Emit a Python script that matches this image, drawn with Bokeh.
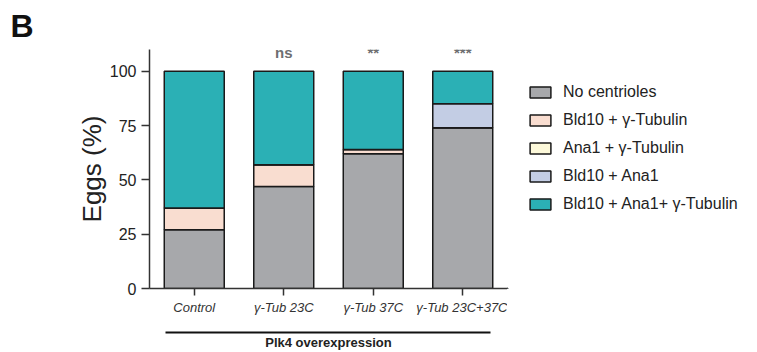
from bokeh.plotting import figure
from bokeh.layouts import row
from bokeh.models import (FixedTicker, Range1d, FactorRange, ColumnDataSource,
                          CategoricalAxis, Legend, LegendItem)
from bokeh.core.properties import value
from bokeh.embed import file_html
from bokeh.resources import INLINE

# Egg phenotypes (%) per genotype
categories = ["Control", "γ-Tub 23C", "γ-Tub 37C", "γ-Tub 23C+37C"]
no_centrioles = [27, 47, 62, 74]
bld10_gtub = [10, 10, 2, 0]
ana1_gtub = [0, 0, 0, 0]
bld10_ana1 = [0, 0, 0, 11]
bld10_ana1_gtub = [63, 43, 36, 15]
significance = ["", "ns", "**", "***"]

stackers = ["none", "bld10_gtub", "ana1_gtub", "bld10_ana1", "all"]
legend_labels = ["No centrioles", "Bld10 + γ-Tubulin", "Ana1 + γ-Tubulin",
                 "Bld10 + Ana1", "Bld10 + Ana1+ γ-Tubulin"]
colors = ["#a7a8ab", "#f9ddd0", "#fdf9da", "#c3cde4", "#2bb0b5"]
y_ticks = [0, 25, 50, 75, 100]
group_label = "Plk4 overexpression"

FONT = "Liberation Sans"
EDGE = "#1a1a1a"

source = ColumnDataSource(dict(
    cat=categories,
    none=no_centrioles,
    bld10_gtub=bld10_gtub,
    ana1_gtub=ana1_gtub,
    bld10_ana1=bld10_ana1,
    all=bld10_ana1_gtub,
))

p = figure(
    width=507, height=352,
    x_range=FactorRange(factors=categories, range_padding=0),
    y_range=Range1d(0, 110),
    output_backend="svg", toolbar_location=None,
    min_border_left=149, min_border_right=0,
    min_border_top=49, min_border_bottom=64,
)
p.outline_line_color = None
p.xgrid.grid_line_color = None
p.ygrid.grid_line_color = None

p.vbar_stack(stackers, x="cat", width=0.67, source=source,
             color=colors, line_color=EDGE, line_width=1.5)

# significance markers above the bars
marked = [(c, s) for c, s in zip(categories, significance) if s]
p.text(x=[c for c, _ in marked], y=[108.5] * len(marked),
       text=[s for _, s in marked],
       text_align="center", text_baseline="alphabetic",
       text_font=value(FONT), text_font_style="bold", text_font_size="15px",
       text_color="#6d6e70")

# axes
for ax in (p.xaxis[0], p.yaxis[0]):
    ax.axis_line_color = "#333333"
    ax.axis_line_width = 1.5
    ax.major_tick_line_color = "#333333"
    ax.major_tick_line_width = 1.5
    ax.major_tick_in = 0
    ax.minor_tick_line_color = None
    ax.major_label_text_font = FONT
    ax.major_label_text_color = "#222222"

p.yaxis.ticker = FixedTicker(ticks=y_ticks)
p.yaxis.major_tick_out = 8
p.yaxis.major_label_text_font_size = "16px"
p.yaxis.major_label_standoff = 5
p.yaxis.axis_label = "Eggs (%)"
p.yaxis.axis_label_text_font = FONT
p.yaxis.axis_label_text_font_size = "26px"
p.yaxis.axis_label_text_font_style = "normal"
p.yaxis.axis_label_text_color = "#222222"
p.yaxis.axis_label_standoff = 0

p.xaxis.major_tick_out = 7
p.xaxis.major_label_text_font_size = "13px"
p.xaxis.major_label_text_font_style = "italic"
p.xaxis.major_label_text_color = "#333333"
p.xaxis.major_label_standoff = 4
# blank label that only reserves room above the group bracket
p.xaxis.axis_label = " "
p.xaxis.axis_label_text_font_size = "10px"
p.xaxis.axis_label_standoff = 1

# group bracket: an unticked axis whose line spans the four genotypes
bracket = CategoricalAxis(bounds=(0.18, 3.81), ticker=FixedTicker(ticks=[]),
                          axis_line_color="#111111", axis_line_width=2,
                          major_tick_line_color=None, minor_tick_line_color=None,
                          major_tick_in=0, major_tick_out=0,
                          major_label_standoff=0,
                          axis_label=group_label, axis_label_standoff=2,
                          axis_label_text_font=FONT,
                          axis_label_text_font_style="bold",
                          axis_label_text_font_size="13px",
                          axis_label_text_color="#222222")
p.add_layout(bracket, "below")

# panel letter
p.title.text = "B"
p.title.align = "left"
p.title.offset = -139
p.title.standoff = 11
p.title.text_font = FONT
p.title.text_font_size = "32px"
p.title.text_font_style = "bold"
p.title.text_color = "#111111"

# legend panel to the right of the bars (its frame lines up with the bars')
key = figure(width=250, height=352, x_range=Range1d(0, 1),
             y_range=Range1d(0, 1), output_backend="svg",
             toolbar_location=None, min_border=0,
             x_axis_location=None, y_axis_location=None)
key.outline_line_color = None
key.grid.visible = False
items = []
for lab, col in zip(legend_labels, colors):
    # swatch carrier kept outside the visible range
    r = key.vbar(x=[-5], top=[-5], bottom=[-6], width=0.1, fill_color=col,
                 line_color=EDGE, line_width=1.5)
    items.append(LegendItem(label=lab, renderers=[r]))
legend = Legend(
    items=items, location=(20, 75),
    border_line_color=None, background_fill_alpha=0,
    padding=0, margin=0, spacing=10,
    glyph_width=26, glyph_height=14, label_height=14, label_standoff=10,
    label_text_font=FONT, label_text_font_size="16px",
    label_text_color="#222222",
)
key.add_layout(legend, "center")

layout = row(p, key, spacing=0)
open("out.html", "w").write(file_html(layout, INLINE))
